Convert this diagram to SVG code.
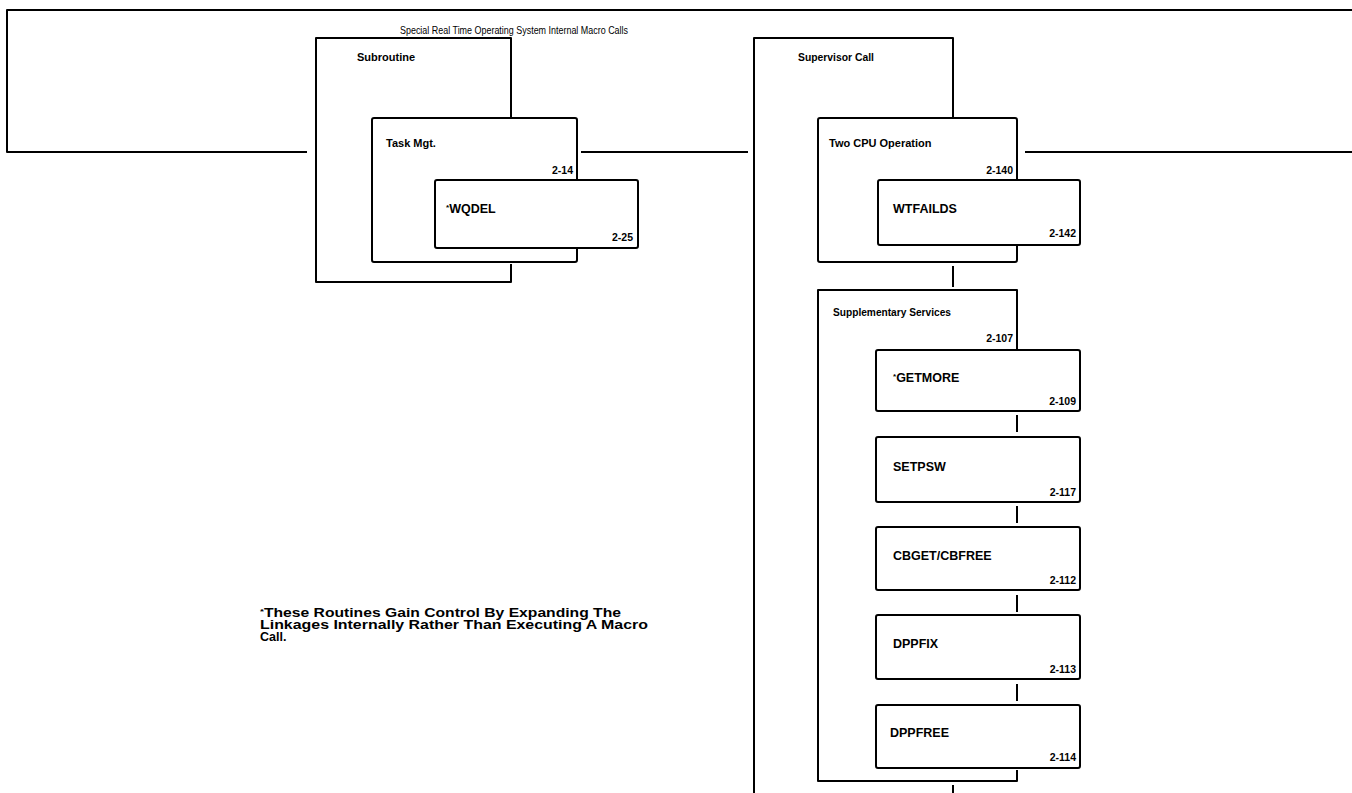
<svg xmlns="http://www.w3.org/2000/svg" width="1352" height="793" viewBox="0 0 1352 793">
<style>
  .ln{fill:none;stroke:#000;stroke-width:2;stroke-linejoin:round}
  .bx{fill:#fff;stroke:#000;stroke-width:2}
  .t{font-family:"Liberation Sans",Arial,sans-serif;fill:#000}
  .ttl{font-size:10.5px}
  .hd{font-size:11px;font-weight:bold}
  .nm{font-size:12.5px;font-weight:bold}
  .pg{font-size:10.5px;font-weight:bold;text-anchor:end}
  .fn{font-size:12.5px;font-weight:bold}
</style>
<rect width="1352" height="793" fill="#fff"/>

<g id="frame">
  <path class="ln" d="M307 152 H7 V10 H1352"/>
  <text class="t ttl" x="400" y="34" textLength="228" lengthAdjust="spacingAndGlyphs">Special Real Time Operating System Internal Macro Calls</text>
</g>

<g id="connectors">
  <path class="ln" d="M581 152 H748"/>
  <path class="ln" d="M1025 152 H1352"/>
  <path class="ln" d="M953 266 V287"/>
  <path class="ln" d="M1017 415 V432"/>
  <path class="ln" d="M1017 506 V523"/>
  <path class="ln" d="M1017 595 V612"/>
  <path class="ln" d="M1017 684 V701"/>
  <path class="ln" d="M953 785 V800"/>
</g>

<g id="subroutine">
  <path class="ln" d="M511 118 V38 H316 V282 H511 V264"/>
  <text class="t hd" x="357" y="61">Subroutine</text>
</g>

<g id="task-mgt">
  <rect class="bx" x="372" y="118" width="205" height="144" rx="2"/>
  <text class="t hd" x="386" y="147">Task Mgt.</text>
  <text class="t pg" x="573" y="174">2-14</text>
</g>

<g id="wqdel">
  <rect class="bx" x="435" y="180" width="203" height="68" rx="2"/>
  <text class="t nm" x="446" y="213"><tspan font-size="8" dy="-3">*</tspan><tspan dy="3">WQDEL</tspan></text>
  <text class="t pg" x="633" y="241">2-25</text>
</g>

<g id="supervisor-call">
  <path class="ln" d="M953 118 V38 H754 V800"/>
  <text class="t hd" x="798" y="61" textLength="76" lengthAdjust="spacingAndGlyphs">Supervisor Call</text>
</g>

<g id="two-cpu">
  <rect class="bx" x="818" y="118" width="199" height="144" rx="2"/>
  <text class="t hd" x="829" y="147">Two CPU Operation</text>
  <text class="t pg" x="1013" y="174">2-140</text>
</g>

<g id="wtfailds">
  <rect class="bx" x="878" y="180" width="202" height="65" rx="2"/>
  <text class="t nm" x="893" y="213">WTFAILDS</text>
  <text class="t pg" x="1076" y="237">2-142</text>
</g>

<g id="supplementary">
  <path class="ln" d="M1017 350 V290 H818 V781 H1017 V770"/>
  <text class="t hd" x="833" y="316" textLength="118" lengthAdjust="spacingAndGlyphs">Supplementary Services</text>
  <text class="t pg" x="1013" y="342">2-107</text>
</g>

<g id="getmore">
  <rect class="bx" x="876" y="350" width="204" height="61" rx="2"/>
  <text class="t nm" x="893" y="382"><tspan font-size="8" dy="-3">*</tspan><tspan dy="3">GETMORE</tspan></text>
  <text class="t pg" x="1076" y="405">2-109</text>
</g>

<g id="setpsw">
  <rect class="bx" x="876" y="437" width="204" height="65" rx="2"/>
  <text class="t nm" x="893" y="471">SETPSW</text>
  <text class="t pg" x="1076" y="496">2-117</text>
</g>

<g id="cbget">
  <rect class="bx" x="876" y="527" width="204" height="63" rx="2"/>
  <text class="t nm" x="893" y="560">CBGET/CBFREE</text>
  <text class="t pg" x="1076" y="584">2-112</text>
</g>

<g id="dppfix">
  <rect class="bx" x="876" y="615" width="204" height="64" rx="2"/>
  <text class="t nm" x="893" y="648">DPPFIX</text>
  <text class="t pg" x="1076" y="673">2-113</text>
</g>

<g id="dppfree">
  <rect class="bx" x="876" y="705" width="204" height="63" rx="2"/>
  <text class="t nm" x="890" y="737">DPPFREE</text>
  <text class="t pg" x="1076" y="761">2-114</text>
</g>

<g id="footnote">
  <text class="t fn" x="260" y="617" textLength="361" lengthAdjust="spacingAndGlyphs"><tspan font-size="8" dy="-3">*</tspan><tspan dy="3">These Routines Gain Control By Expanding The</tspan></text>
  <text class="t fn" x="260" y="629" textLength="388" lengthAdjust="spacingAndGlyphs">Linkages Internally Rather Than Executing A Macro</text>
  <text class="t fn" x="260" y="641">Call.</text>
</g>
</svg>
